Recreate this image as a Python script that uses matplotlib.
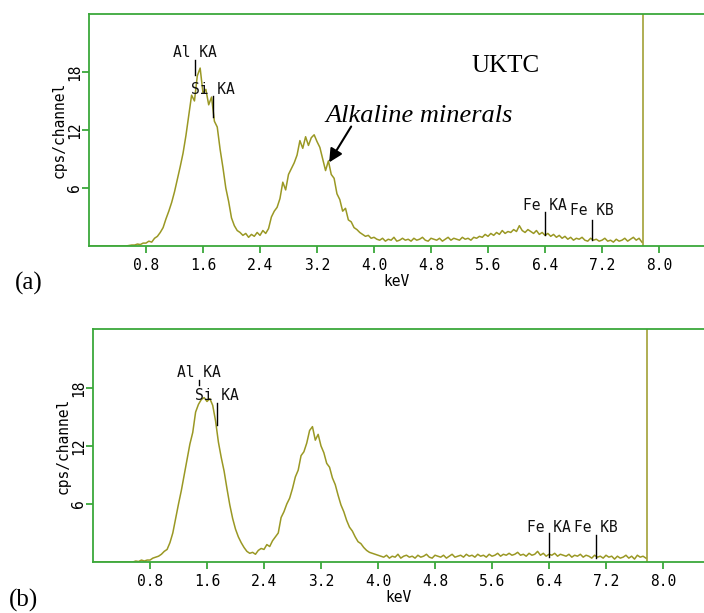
import numpy as np
import matplotlib
matplotlib.use("Agg")
import matplotlib.pyplot as plt

# ---------------- data ----------------
step_kev = 0.04
spec_a = [0]*14 + [
    0.05, 0.1, 0.1, 0.2, 0.15, 0.3, 0.3,
    0.5, 0.4, 0.8, 1.0, 1.4, 1.9, 2.8, 3.6, 4.5, 5.6,
    6.9, 8.2, 9.6, 11.4, 13.5, 15.6, 15.0, 17.6, 18.4, 15.8,
    16.2, 14.6, 15.4, 12.9, 12.3, 10.0, 8.1, 6.0, 4.6, 2.9,
    2.1, 1.6, 1.4, 1.1, 1.3, 0.9, 1.2, 1.0, 1.4, 1.1,
    1.6, 1.3, 1.8, 3.0, 3.6, 4.0, 4.9, 6.6, 5.8, 7.4,
    8.0, 8.6, 9.4, 10.9, 10.1, 11.3, 10.4, 11.2, 11.5, 10.8,
    10.2, 9.0, 7.8, 8.8, 7.4, 7.0, 5.4, 4.8, 3.6, 3.9,
    2.7, 2.5, 1.9, 1.7, 1.4, 1.2, 1.0, 1.1, 0.8, 0.9,
    0.7, 0.6, 0.8, 0.5, 0.7, 0.6, 0.9, 0.5, 0.6, 0.8, 0.6, 0.7, 0.5, 0.8, 0.6, 0.7, 0.9,
    0.6, 0.5, 0.8, 0.7, 0.6, 0.8, 0.5, 0.7, 0.9, 0.6, 0.8, 0.7, 0.6, 0.9, 0.7, 0.8, 0.6, 0.9,
    0.8, 1.0, 0.9, 1.2, 1.0, 1.3, 1.1, 1.4, 1.2, 1.6, 1.3, 1.5, 1.4, 1.7, 1.5, 2.1,
    1.6, 1.4, 1.7, 1.5, 1.3, 1.6, 1.2, 1.4, 1.1, 1.3, 1.0, 1.2, 0.9, 1.1,
    0.8, 1.0, 0.7, 0.9, 0.6, 0.8, 0.7, 0.9, 0.6, 0.5, 0.8, 0.6, 0.7, 0.5, 0.6,
    0.8, 0.5, 0.6, 0.4, 0.7, 0.5, 0.6, 0.8, 0.5, 0.7, 0.9, 0.6, 0.8, 0.4,
]
spec_b = [0]*14 + [
    0.0, 0.1, 0.05, 0.2, 0.1, 0.2, 0.2,
    0.4, 0.5, 0.6, 0.8, 1.1, 1.3, 2.0, 3.0, 4.5, 6.0,
    7.4, 9.0, 10.6, 12.2, 13.4, 15.5, 16.3, 16.8, 17.0, 16.6,
    16.9, 16.2, 14.6, 12.4, 10.8, 9.4, 7.6, 5.9, 4.5, 3.4,
    2.6, 2.0, 1.5, 1.1, 0.9, 1.0, 0.8, 1.2, 1.4, 1.3,
    1.8, 1.6, 2.2, 2.6, 3.0, 4.6, 5.2, 6.0, 6.6, 7.6,
    8.8, 9.5, 11.0, 11.4, 12.3, 13.6, 14.0, 12.6, 13.2, 12.0,
    11.3, 10.2, 9.8, 8.7, 8.0, 6.9, 5.9, 5.2, 4.3, 3.6,
    3.2, 2.6, 2.1, 1.9, 1.5, 1.2, 1.0, 0.9, 0.8, 0.7,
    0.6, 0.5, 0.7, 0.4, 0.6, 0.5, 0.8, 0.4, 0.6, 0.7, 0.5, 0.6, 0.4, 0.7, 0.5, 0.6, 0.8,
    0.5, 0.4, 0.7, 0.6, 0.5, 0.7, 0.4, 0.6, 0.8, 0.5, 0.6, 0.7, 0.5, 0.8, 0.6, 0.7, 0.5, 0.8,
    0.6, 0.7, 0.5, 0.8, 0.6, 0.7, 0.9, 0.6, 0.8, 0.7, 0.9, 0.7, 0.8, 1.0, 0.7, 0.8,
    0.6, 0.9, 0.7, 0.8, 1.1, 0.7, 0.9, 0.6, 0.8, 0.7, 0.9, 0.6, 0.8, 0.7,
    0.6, 0.8, 0.5, 0.7, 0.6, 0.8, 0.5, 0.7, 0.6, 0.4, 0.7, 0.5, 0.6, 0.4, 0.7,
    0.5, 0.6, 0.3, 0.6, 0.4, 0.5, 0.7, 0.4, 0.6, 0.3, 0.7, 0.5, 0.6, 0.4,
]
spectrum_end_kev = 7.78

xticks = [0.8, 1.6, 2.4, 3.2, 4.0, 4.8, 5.6, 6.4, 7.2, 8.0]
xtick_labels = ["0.8", "1.6", "2.4", "3.2", "4.0", "4.8", "5.6", "6.4", "7.2", "8.0"]
yticks = [6, 12, 18]
ytick_labels = ["6", "12", "18"]

line_names = ["Al KA", "Si KA", "Fe KA", "Fe KB"]
line_kev = [1.49, 1.74, 6.40, 7.06]
# label y, marker top, marker bottom (cps)
marks_a = [(20.0, 19.2, 17.7), (16.2, 15.5, 13.3), (4.2, 3.5, 1.1), (3.7, 2.7, 0.6)]
marks_b = [(19.6, 18.8, 18.3), (17.2, 16.4, 14.2), (3.6, 3.0, 0.5), (3.6, 2.8, 0.4)]

# ---------------- style ----------------
W, H = 704, 613
GREEN = "#3aa83a"
OLIVE = "#9a9824"
MONO = "DejaVu Sans Mono"
SERIF = "Liberation Serif"

fig = plt.figure(figsize=(W/100, H/100), dpi=100)


def panel(rect, spec, marks, xmax, ymax):
    ax = fig.add_axes(rect)
    e = np.arange(len(spec)) * step_kev
    ax.plot(e, spec, color=OLIVE, lw=1.1)
    ax.axvline(spectrum_end_kev, color=OLIVE, lw=1.1)
    ax.set_xlim(0, xmax)
    ax.set_ylim(0, ymax)
    for s in ["left", "top", "bottom"]:
        ax.spines[s].set_color(GREEN)
        ax.spines[s].set_linewidth(1.3)
    ax.spines["right"].set_visible(False)
    ax.set_xticks(xticks)
    ax.set_xticklabels(xtick_labels, fontfamily=MONO, fontsize=10.5)
    ax.set_yticks(yticks)
    ax.set_yticklabels(ytick_labels, fontfamily=MONO, fontsize=10.5,
                       rotation=90, va="center")
    ax.tick_params(axis="x", color=GREEN, length=5, width=1.3, pad=4)
    ax.tick_params(axis="y", color=GREEN, length=5, width=1.3, pad=0)
    ax.set_xlabel("keV", fontfamily=MONO, fontsize=10.5, labelpad=0)
    ax.set_ylabel("cps/channel", fontfamily=MONO, fontsize=10.5, labelpad=0)
    for name, en, (ly, y0, y1) in zip(line_names, line_kev, marks):
        ax.plot([en, en], [y1, y0], color="black", lw=1.0)
        ax.text(en, ly, name, ha="center", va="center",
                fontfamily=MONO, fontsize=10.5, color="#111111")
    return ax


axa = panel([89/W, 1-246/H, (W-89)/W, (246-14)/H], spec_a, marks_a,
            (W-89)/71.25, (246-14)/9.67)
axb = panel([93/W, 1-562/H, (W-93)/W, (562-329)/H], spec_b, marks_b,
            (W-93)/71.25, (562-329)/9.67)

axa.text(5.84, 18.6, "UKTC", fontfamily=SERIF, fontsize=18, ha="center", va="center")
axa.text(5.95, 13.4, "Alkaline minerals", fontfamily=SERIF, style="italic",
         fontsize=19, ha="right", va="center")
axa.annotate("", xy=(3.35, 8.4), xytext=(3.70, 12.6),
             arrowprops=dict(arrowstyle="-|>", color="black", lw=1.5,
                             mutation_scale=20))

fig.text(29/W, 1-283/H, "(a)", fontfamily=SERIF, fontsize=18, ha="center", va="center")
fig.text(24/W, 1-600/H, "(b)", fontfamily=SERIF, fontsize=18, ha="center", va="center")

fig.savefig("out.png", dpi=100)
